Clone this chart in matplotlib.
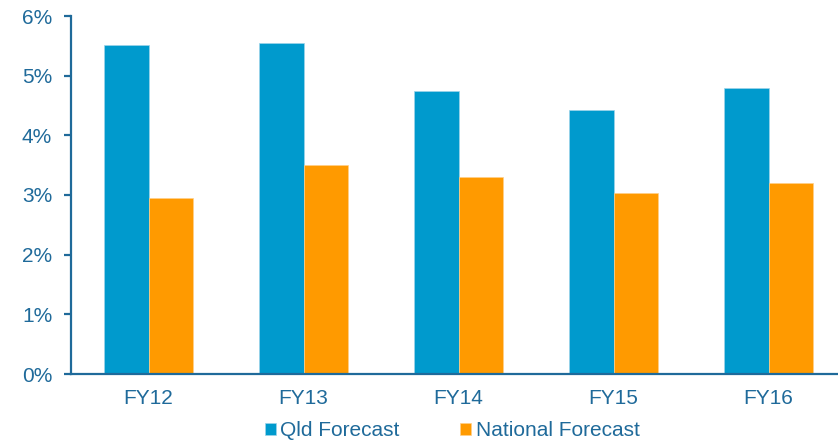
import numpy as np
import matplotlib
matplotlib.use('Agg')
from matplotlib import pyplot as plt

# growth forecasts, percent
years = ['FY12', 'FY13', 'FY14', 'FY15', 'FY16']
qld = [5.51, 5.55, 4.75, 4.43, 4.79]
national = [2.95, 3.50, 3.30, 3.03, 3.20]

blue = '#009ACD'
orange = '#FF9A00'
axis_col = '#1F6A9A'

plt.rcParams['font.family'] = ['Liberation Sans', 'DejaVu Sans']

fig = plt.figure(figsize=(8.38, 4.42), dpi=100)
ax = fig.add_axes([71 / 838, 68 / 442, 767 / 838, 358 / 442])

x = np.arange(len(years))
w = 0.284
ax.bar(x - w / 2, qld, w, color=blue, edgecolor='#9ED4EA', linewidth=0.5, label='Qld Forecast')
ax.bar(x + w / 2, national, w, color=orange, edgecolor='#FFD08A', linewidth=0.5, label='National Forecast')

ax.set_xlim(-0.5, -0.5 + 767 / 155)
ax.set_ylim(0, 6)
ax.set_yticks(range(0, 7))
ax.set_yticklabels(['{}%'.format(v) for v in range(0, 7)])
ax.set_xticks(x)
ax.set_xticklabels(years)

for s in ['top', 'right']:
    ax.spines[s].set_visible(False)
for s in ['left', 'bottom']:
    ax.spines[s].set_color(axis_col)
    ax.spines[s].set_linewidth(1.6)

ax.tick_params(axis='y', colors=axis_col, labelsize=15, length=5, width=1.6, pad=8.5)
ax.tick_params(axis='x', colors=axis_col, labelsize=15, length=0, pad=11)

fig.legend(loc='center', bbox_to_anchor=(452 / 838, 1 - 431 / 442), ncol=2, frameon=False,
           fontsize=15, handlelength=0.55, handleheight=0.52, handletextpad=0.2,
           columnspacing=2.9, labelcolor=axis_col, borderaxespad=0, borderpad=0)

fig.savefig('out.png', dpi=100)
